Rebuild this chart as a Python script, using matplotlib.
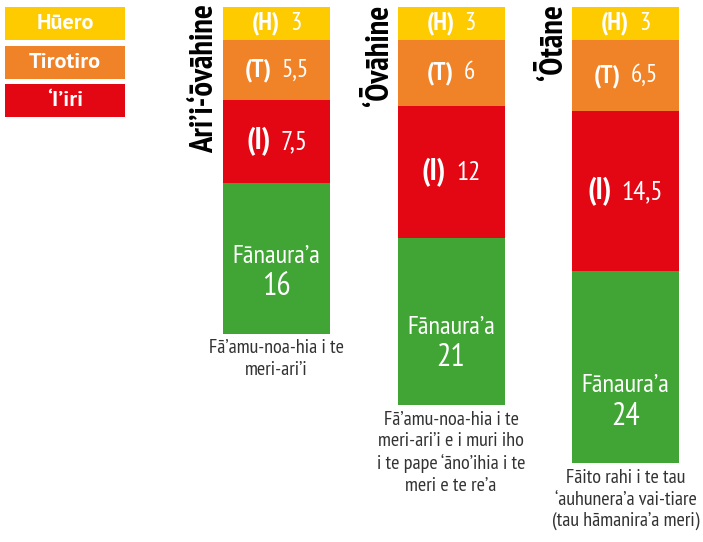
import matplotlib
matplotlib.use("Agg")
import matplotlib.pyplot as plt
from matplotlib.patches import Rectangle
from matplotlib.offsetbox import TextArea, HPacker, VPacker, AnnotationBbox
import numpy as np

categories = ["Ari’i-‘ōvāhine", "‘Ōvāhine", "‘Ōtāne"]
huero = [3, 3, 3]
tirotiro = [5.5, 6, 6.5]
iiri = [7.5, 12, 14.5]
fanaura = [16, 21, 24]
# green part is drawn shorter than its value in the original
fanaura_shown = [13.7, 15.2, 17.5]
captions = [
    "Fā’amu-noa-hia i te\nmeri-ari’i",
    "Fā’amu-noa-hia i te\nmeri-ari’i e i muri iho\ni te pape ‘āno’ihia i te\nmeri e te re’a",
    "Fāito rahi i te tau\n‘auhunera’a vai-tiare\n(tau hāmanira’a meri)",
]
legend_labels = ["Hūero", "Tirotiro", "‘I’iri"]
short = ["(H)", "(T)", "(I)"]

YELLOW = "#fecb00"
ORANGE = "#f08228"
RED = "#e30613"
GREEN = "#41a535"
FONT = ["PT Sans Narrow", "DejaVu Sans"]
plt.rcParams["font.family"] = FONT


def num(v):
    return f"{v:g}".replace(".", ",")


def pair(ax, xy, bold, value, s1, s2):
    a = TextArea(bold, textprops=dict(color="white", fontsize=s1, fontweight="bold", family=FONT))
    b = TextArea(value, textprops=dict(color="white", fontsize=s2, family=FONT))
    box = HPacker(children=[a, b], align="baseline", pad=0, sep=7)
    ax.add_artist(AnnotationBbox(box, xy, frameon=False, box_alignment=(0.5, 0.5), pad=0))


fig = plt.figure(figsize=(7.03, 5.42), dpi=100)
ax = fig.add_axes([0, 0, 1, 1])
ax.set_xlim(-1.585, 2.444)
ax.set_ylim(48.64, -0.636)
ax.axis("off")

x = np.arange(len(categories))
w = 0.613
bottom = np.zeros(len(categories))
for vals, col in [(huero, YELLOW), (tirotiro, ORANGE), (iiri, RED), (fanaura_shown, GREEN)]:
    ax.bar(x, vals, w, bottom=bottom, color=col, linewidth=0)
    bottom += np.array(vals)

for i, xi in enumerate(x):
    top = 0
    for k, (vals, s1, s2) in enumerate([(huero, 18.5, 18), (tirotiro, 18.5, 18), (iiri, 22, 19.5)]):
        pair(ax, (xi, top + vals[i] / 2), short[k], num(vals[i]), s1, s2)
        top += vals[i]

    g1 = TextArea("Fānaura’a", textprops=dict(color="white", fontsize=19, family=FONT))
    g2 = TextArea(num(fanaura[i]), textprops=dict(color="white", fontsize=23, family=FONT))
    gbox = VPacker(children=[g1, g2], align="center", pad=0, sep=3)
    ax.add_artist(AnnotationBbox(gbox, (xi, bottom[i] - 5.5), frameon=False,
                                 box_alignment=(0.5, 0.5), pad=0))

    ax.annotate(categories[i], xy=(xi - w / 2, 0), xytext=(-2, 2), textcoords="offset points",
                rotation=90, ha="right", va="top", fontsize=23.5, fontweight="bold", color="black")

    ax.annotate(captions[i], xy=(xi, bottom[i]), xytext=(0, -4), textcoords="offset points",
                ha="center", va="top", fontsize=14.5, color="#333333", linespacing=1.25)

# legend boxes at top-left
for i, (lab, col) in enumerate(zip(legend_labels, [YELLOW, ORANGE, RED])):
    y0 = 7 + i * 38.5
    fig.add_artist(Rectangle((5 / 703, 1 - (y0 + 33) / 542), 120 / 703, 33 / 542,
                             transform=fig.transFigure, color=col, lw=0))
    fig.text(65 / 703, 1 - (y0 + 16.5) / 542, lab, ha="center", va="center",
             color="white", fontsize=16, fontweight="bold", family=["PT Sans", "DejaVu Sans"])

fig.savefig("out.png", dpi=100)
